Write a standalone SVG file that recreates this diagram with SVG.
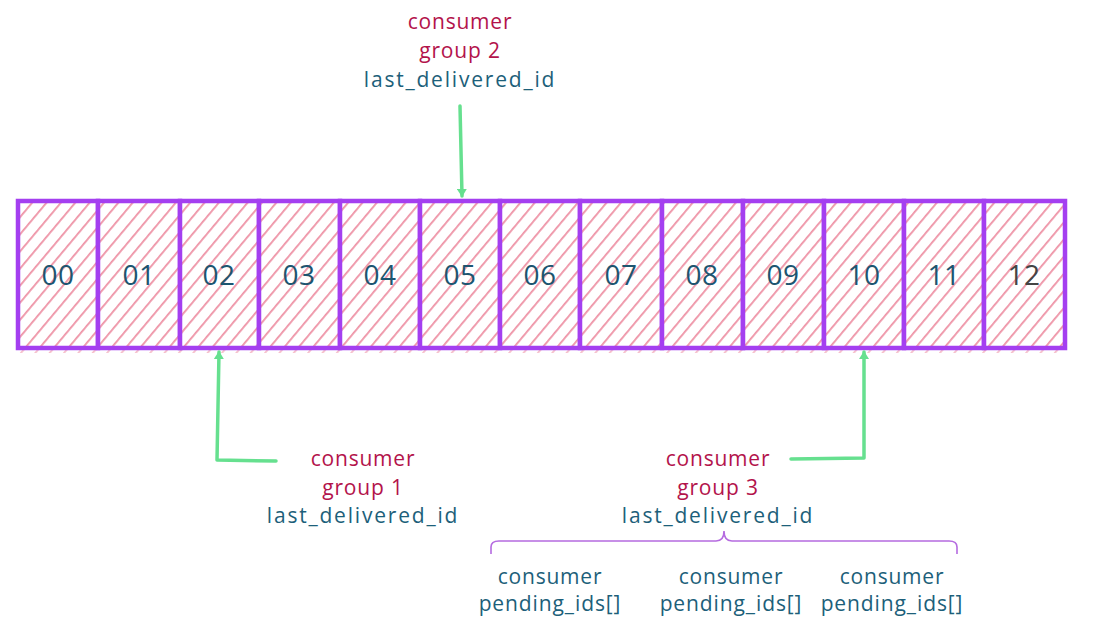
<svg xmlns="http://www.w3.org/2000/svg" width="1102" height="623" viewBox="0 0 1102 623">
<style>
.num{font-family:"Open Sans","Liberation Sans",sans-serif;font-size:28px;fill:#1d5570;text-anchor:middle;letter-spacing:0.5px}
.red{font-family:"Open Sans","Liberation Sans",sans-serif;font-size:21px;fill:#b3134b;text-anchor:middle;letter-spacing:0.8px}
.blue{font-family:"Open Sans","Liberation Sans",sans-serif;font-size:21px;fill:#1d5f7a;text-anchor:middle;letter-spacing:0.8px}
.wide{letter-spacing:1.8px}
.pend{letter-spacing:0.9px}
.cell{fill:url(#hatch);stroke:#a43ff0;stroke-width:4.5}
.conn{fill:none;stroke:#66e08f;stroke-width:3.5;stroke-linecap:round;stroke-linejoin:round}
.brace{fill:none;stroke:#b56be0;stroke-width:1.6}
</style>
<defs>
<pattern id="hatch" patternUnits="userSpaceOnUse" width="11" height="11" patternTransform="rotate(40)">
<rect width="11" height="11" fill="#ffffff"/>
<rect x="0" y="0" width="1.8" height="11" fill="#ee93a6"/>
</pattern>
<marker id="ah" markerWidth="10" markerHeight="10" refX="7" refY="5" orient="auto" markerUnits="userSpaceOnUse">
<path d="M0,0 L8,5 L0,10 z" fill="#66e08f"/>
</marker>
</defs>
<rect x="18" y="340" width="1047" height="13" fill="url(#hatch)" opacity="0.6"/>
<g id="cell00"><rect class="cell" x="18" y="201" width="80" height="147"/><text class="num" x="58" y="285">00</text></g>
<g id="cell01"><rect class="cell" x="98" y="201" width="82" height="147"/><text class="num" x="139" y="285">01</text></g>
<g id="cell02"><rect class="cell" x="180" y="201" width="79" height="147"/><text class="num" x="219" y="285">02</text></g>
<g id="cell03"><rect class="cell" x="259" y="201" width="81" height="147"/><text class="num" x="299" y="285">03</text></g>
<g id="cell04"><rect class="cell" x="340" y="201" width="80" height="147"/><text class="num" x="380" y="285">04</text></g>
<g id="cell05"><rect class="cell" x="420" y="201" width="80" height="147"/><text class="num" x="460" y="285">05</text></g>
<g id="cell06"><rect class="cell" x="500" y="201" width="80" height="147"/><text class="num" x="540" y="285">06</text></g>
<g id="cell07"><rect class="cell" x="580" y="201" width="82" height="147"/><text class="num" x="621" y="285">07</text></g>
<g id="cell08"><rect class="cell" x="662" y="201" width="81" height="147"/><text class="num" x="702" y="285">08</text></g>
<g id="cell09"><rect class="cell" x="743" y="201" width="81" height="147"/><text class="num" x="783" y="285">09</text></g>
<g id="cell10"><rect class="cell" x="824" y="201" width="80" height="147"/><text class="num" x="864" y="285">10</text></g>
<g id="cell11"><rect class="cell" x="904" y="201" width="80" height="147"/><text class="num" x="944" y="285">11</text></g>
<g id="cell12"><rect class="cell" x="984" y="201" width="81" height="147"/><text class="num" x="1024" y="285" style="fill:#444">12</text></g>
<g id="connectors">
<path class="conn" d="M460,106 L462,196" marker-end="url(#ah)"/>
<path class="conn" d="M276,461 L217,460 L219,352" marker-end="url(#ah)"/>
<path class="conn" d="M791,459 L864,458 L864,352" marker-end="url(#ah)"/>
<path class="brace" d="M491,554 L491,547 Q491,541 499,541 L716,541 Q724,541 724,531 Q724,541 732,541 L949,541 Q957,541 957,547 L957,554"/>
</g>
<g id="group2"><text class="red" x="460" y="29">consumer</text><text class="red" x="460" y="58">group 2</text><text class="blue wide" x="460" y="87">last_delivered_id</text></g>
<g id="group1"><text class="red" x="363" y="466">consumer</text><text class="red" x="363" y="495">group 1</text><text class="blue wide" x="363" y="523">last_delivered_id</text></g>
<g id="group3"><text class="red" x="718" y="466">consumer</text><text class="red" x="718" y="495">group 3</text><text class="blue wide" x="718" y="523">last_delivered_id</text></g>
<g id="consumerA"><text class="blue" x="550" y="584">consumer</text><text class="blue pend" x="550" y="611">pending_ids[]</text></g>
<g id="consumerB"><text class="blue" x="731" y="584">consumer</text><text class="blue pend" x="731" y="611">pending_ids[]</text></g>
<g id="consumerC"><text class="blue" x="892" y="584">consumer</text><text class="blue pend" x="892" y="611">pending_ids[]</text></g>
</svg>
